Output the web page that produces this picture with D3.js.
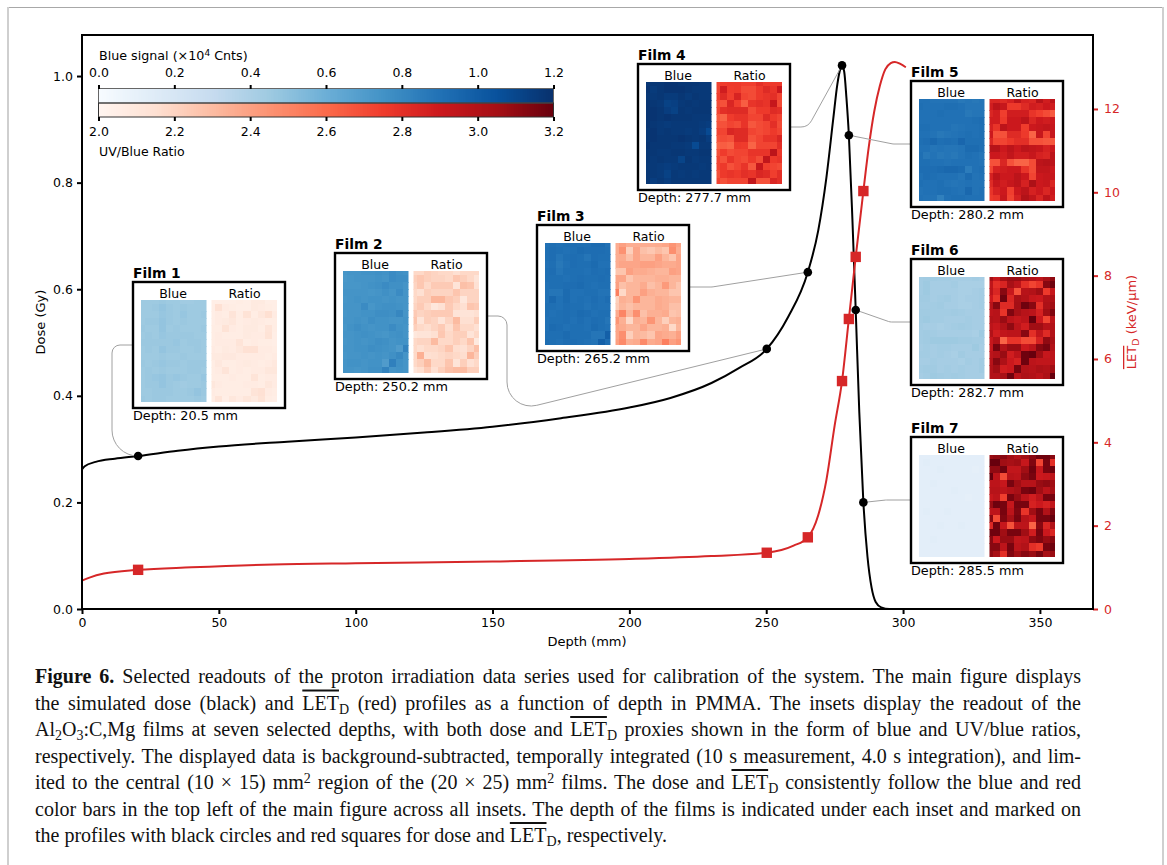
<!DOCTYPE html>
<html><head><meta charset="utf-8">
<script src="https://cdn.jsdelivr.net/npm/d3@7"></script>
<style>
html,body{margin:0;padding:0;background:#fff}
svg{display:block}
text{font-family:"DejaVu Sans",sans-serif;fill:#000}
.cap{font-family:"Liberation Serif",serif;font-size:20px;fill:#111}
</style></head><body><svg id="c" width="1167" height="865"></svg>
<script>
// ---------- data ----------
const doseDepth=[0,1,5,12,20.5,35,50,75,100,125,150,175,200,215,230,240,250.2,258,265.2,269,272,274.5,276,277,277.7,278.5,279.3,280.2,281.5,282.7,284,285.5,287,288.5,290,292,295,300];
const doseVals=[0.262,0.268,0.276,0.282,0.287,0.297,0.305,0.314,0.322,0.331,0.342,0.358,0.378,0.396,0.424,0.452,0.488,0.548,0.632,0.71,0.81,0.92,0.985,1.012,1.02,1.008,0.96,0.889,0.73,0.561,0.37,0.2,0.098,0.04,0.013,0.003,0,0];
const letDepth=[0,3,8,20.5,40,70,100,150,200,230,250.2,260,265.2,269,272,275,277.7,280.2,282.7,285.5,287.5,289.5,291.5,293.5,295.5,297,299,301];
const letVals=[0.68,0.76,0.85,0.94,1.0,1.07,1.1,1.14,1.2,1.27,1.35,1.52,1.72,2.25,3.1,4.4,5.47,6.96,8.45,10.03,11.1,11.95,12.55,12.95,13.1,13.13,13.08,13.0];
const filmNames=["Film 1","Film 2","Film 3","Film 4","Film 5","Film 6","Film 7"];
const filmDepths=[20.5,250.2,265.2,277.7,280.2,282.7,285.5];
const filmDose=[0.287,0.488,0.632,1.02,0.889,0.561,0.2];
const filmLet=[0.94,1.35,1.72,5.47,6.96,8.45,10.03];
const xTicks=[0,50,100,150,200,250,300,350];
const doseTicks=[0,0.2,0.4,0.6,0.8,1.0];
const letTicks=[0,2,4,6,8,10,12];
const blueTicks=[0,0.2,0.4,0.6,0.8,1.0,1.2];
const ratioTicks=[2,2.2,2.4,2.6,2.8,3.0,3.2];
const bluesStops=["#f7fbff","#deebf7","#c6dbef","#9ecae1","#6baed6","#4292c6","#2171b5","#08519c","#08306b"];
const redsStops=["#fff5f0","#fee0d2","#fcbba1","#fc9272","#fb6a4a","#ef3b2c","#cb181d","#a50f15","#67000d"];
// blue signal per film cell (x100, 10^4 counts)
const blue1=[[45,45,45,46,45,45,44,44,45,45],[45,45,46,48,46,45,46,45,45,45],[45,45,45,47,46,45,47,45,45,46],[45,46,46,48,46,45,46,45,45,45],[46,45,45,48,45,46,45,45,45,46],[45,46,45,47,46,46,46,46,45,45],[46,46,46,46,46,47,45,46,46,45],[45,46,45,48,46,46,45,45,46,45],[45,45,45,46,45,45,46,45,45,45],[46,45,46,47,46,46,45,46,46,46],[45,46,45,46,45,45,45,46,46,45],[45,46,47,48,46,47,46,45,45,47],[45,46,46,48,46,45,44,45,45,46],[45,45,46,46,46,45,45,46,48,46],[46,45,46,46,45,45,45,45,46,45]];
const blue2=[[73,74,74,75,75,76,75,78,76,75],[72,73,74,74,74,75,74,78,77,77],[73,73,73,74,75,76,78,76,76,74],[74,74,74,74,73,74,76,74,78,74],[73,74,75,74,75,75,74,75,74,74],[74,74,74,78,73,75,76,76,75,74],[73,74,74,75,75,77,77,76,80,74],[74,74,75,74,77,75,75,74,74,75],[73,75,77,75,74,75,75,78,75,74],[74,74,75,76,75,74,73,75,76,74],[73,74,75,74,75,77,76,74,75,75],[74,74,75,75,77,76,75,74,70,82],[73,74,74,75,74,75,74,76,79,74],[74,75,75,74,75,75,70,83,76,74],[74,74,73,74,76,76,82,74,75,74]];
const blue3=[[90,91,90,91,92,91,91,93,93,90],[91,92,91,90,91,93,92,92,92,91],[91,92,88,91,92,91,88,92,91,91],[90,91,87,90,92,91,91,93,90,90],[91,92,88,91,91,91,90,92,91,92],[91,91,91,90,91,92,91,91,92,91],[90,91,91,92,92,93,91,90,91,91],[90,88,88,93,90,90,91,91,89,89],[90,94,90,93,90,91,90,92,90,92],[91,91,90,92,91,91,89,91,90,90],[91,90,91,92,91,93,92,90,91,91],[90,91,91,92,90,92,90,92,91,88],[90,93,92,90,91,91,90,93,91,90],[91,91,91,93,91,91,91,88,88,98],[92,91,90,92,92,91,90,89,98,92]];
const blue4=[[117,117,117,118,118,117,117,117,116,116],[118,115,117,118,118,118,117,116,116,116],[117,116,117,115,115,117,115,117,116,116],[118,117,116,112,113,116,117,116,117,117],[118,118,117,114,112,117,116,117,117,117],[118,118,117,118,117,117,117,116,116,116],[118,117,116,115,116,116,116,116,115,114],[117,118,116,117,116,116,115,116,114,108],[117,118,117,117,117,118,117,116,117,114],[118,117,117,117,116,116,115,108,116,116],[117,117,116,116,117,117,116,116,117,117],[117,116,117,116,116,111,117,115,116,116],[116,116,115,114,115,116,116,116,115,116],[117,116,115,112,116,115,116,115,116,116],[117,114,116,114,116,116,116,116,116,116]];
const blue5=[[90,90,89,89,89,89,87,88,87,88],[91,90,90,90,91,91,90,88,88,88],[90,90,90,91,90,90,90,87,88,88],[90,90,90,90,90,90,90,90,91,92],[91,91,90,90,90,88,89,90,90,91],[90,90,89,87,88,89,90,91,90,91],[91,92,94,91,92,91,95,91,91,91],[90,90,88,89,88,88,89,93,93,91],[91,87,89,87,88,87,89,91,90,88],[91,91,90,90,89,90,90,90,90,89],[92,92,92,93,94,94,93,85,90,91],[90,92,91,90,90,90,88,93,89,90],[91,90,90,91,89,88,89,90,89,89],[89,90,90,91,91,90,89,94,89,90],[90,89,89,83,90,91,91,90,90,90]];
const blue6=[[43,44,44,43,43,42,42,42,43,42],[43,45,42,42,42,43,41,41,41,41],[43,45,42,42,42,42,41,41,42,43],[44,44,42,43,44,42,41,42,42,43],[43,43,43,44,42,42,41,41,42,43],[44,44,43,43,43,44,43,42,42,42],[44,45,43,43,42,42,42,43,42,42],[43,42,42,41,42,43,44,43,42,42],[43,44,43,42,42,42,42,42,41,45],[43,44,45,45,45,45,44,44,43,43],[42,43,42,43,43,42,42,42,45,42],[43,43,42,43,42,41,44,42,42,42],[42,42,43,42,42,42,41,43,42,44],[43,44,44,42,43,42,43,42,42,44],[42,43,45,44,43,44,43,42,42,42]];
const blue7=[[12,12,12,12,11,12,12,12,12,12],[12,13,12,12,12,12,12,12,12,12],[12,12,12,13,12,12,12,12,11,12],[12,12,12,12,12,12,12,12,12,12],[12,12,13,12,12,12,12,12,12,12],[12,12,12,12,12,13,12,12,12,12],[12,12,12,12,12,12,12,11,12,12],[12,12,12,12,12,12,12,12,12,12],[12,13,12,12,13,12,12,12,12,12],[12,12,12,12,12,12,12,12,12,12],[12,12,12,13,12,12,13,12,12,12],[12,12,12,12,12,12,12,12,12,12],[12,12,13,12,12,12,12,12,12,12],[12,12,12,12,12,12,12,12,12,12],[12,12,12,12,12,12,12,12,12,12]];
const ratio1=[[205,205,205,205,206,205,208,208,205,205],[205,214,207,206,205,205,208,207,206,205],[205,207,206,212,206,213,206,210,215,207],[205,207,208,210,206,207,208,207,206,206],[206,206,213,207,206,208,208,206,212,206],[206,207,206,206,206,208,207,207,213,205],[206,207,207,207,212,206,207,206,206,205],[207,206,208,207,210,214,214,207,207,206],[208,208,209,209,207,207,207,207,206,207],[206,209,206,206,207,208,207,206,207,209],[206,207,212,206,207,206,207,207,210,210],[206,206,206,207,206,206,212,206,207,207],[210,207,206,206,206,207,207,206,210,207],[207,206,206,206,206,206,212,214,207,206],[206,212,205,210,207,211,208,213,206,205]];
const ratio2=[[218,218,222,220,218,218,215,218,218,218],[222,225,222,220,220,218,225,222,218,212],[220,225,218,224,224,224,212,228,226,214],[218,215,222,220,220,220,226,220,220,220],[218,222,222,232,232,225,222,210,220,220],[220,224,218,210,214,224,218,215,226,224],[224,220,222,224,224,224,212,212,212,215],[226,212,222,220,212,220,230,215,215,222],[222,218,216,220,224,216,226,218,218,214],[210,212,212,215,225,218,222,222,212,218],[218,220,220,230,218,218,222,218,226,208],[218,215,218,218,220,226,216,214,220,228],[218,234,215,216,218,220,218,216,232,222],[218,222,230,218,218,226,212,222,214,218],[212,216,224,215,222,228,230,230,222,222]];
const ratio3=[[235,240,235,235,235,235,236,238,244,238],[235,245,222,238,228,225,230,226,246,235],[235,236,228,238,232,232,240,232,226,238],[235,238,238,238,240,240,238,236,236,238],[226,226,240,236,236,234,232,232,240,238],[238,238,226,232,232,232,234,234,232,232],[240,228,232,232,236,228,232,242,232,226],[252,218,232,232,240,234,232,232,226,226],[222,234,232,244,232,232,236,234,232,232],[224,232,228,232,232,232,236,234,228,228],[236,250,232,246,228,234,234,236,226,228],[244,234,218,234,232,244,232,222,232,234],[238,236,232,232,238,232,232,234,218,232],[238,246,222,232,230,226,238,236,234,240],[240,248,234,236,248,236,238,252,240,244]];
const ratio4=[[272,275,276,276,274,274,280,276,276,276],[272,288,275,276,270,270,276,282,278,290],[274,282,274,285,272,270,276,278,280,272],[270,268,284,274,264,278,280,278,292,270],[272,280,282,282,282,270,276,276,282,280],[265,262,275,278,278,272,272,282,276,272],[268,268,272,270,278,266,270,272,280,270],[272,272,284,282,282,272,270,272,276,272],[268,270,268,282,282,268,272,278,278,284],[262,264,262,276,275,262,272,272,272,280],[268,275,270,272,272,278,278,278,296,276],[272,268,278,272,270,276,270,294,276,278],[272,276,268,272,278,266,292,274,272,270],[268,276,278,276,280,278,284,282,274,280],[272,268,272,272,272,294,268,268,284,280]];
const ratio5=[[284,284,282,286,296,286,284,298,288,296],[288,296,292,276,276,282,288,286,290,288],[284,288,274,288,288,288,278,274,270,265],[288,288,276,290,290,296,284,290,288,290],[286,278,296,290,290,275,290,292,294,292],[290,268,268,282,282,276,262,292,272,292],[284,272,272,276,280,280,268,268,266,266],[298,298,290,296,290,296,294,292,286,290],[290,290,288,294,288,288,292,286,284,296],[268,268,284,268,262,262,270,296,298,296],[272,286,288,290,290,278,270,294,294,290],[286,296,290,290,296,290,272,290,292,292],[282,292,288,292,296,286,302,290,292,284],[278,286,290,274,290,296,286,290,284,290],[276,278,292,272,286,300,294,284,296,288]];
const ratio6=[[305,292,305,308,308,304,300,296,304,310],[295,280,285,304,296,280,272,278,312,318],[296,284,312,292,268,298,300,306,276,292],[290,278,318,284,304,300,292,290,300,302],[298,312,282,282,305,318,312,280,302,306],[296,298,278,314,304,298,296,286,306,314],[300,298,308,296,292,296,320,290,272,296],[296,292,300,310,296,288,306,306,298,300],[300,288,294,296,296,312,280,294,282,300],[292,300,262,278,278,270,270,286,310,304],[292,316,300,308,308,290,296,312,316,300],[296,300,308,288,296,318,320,306,292,296],[298,312,302,290,286,318,296,294,294,296],[300,306,288,290,316,300,298,302,300,306],[300,300,304,318,296,302,300,296,302,320]];
const ratio7=[[308,310,312,306,300,306,312,318,318,312],[320,320,306,304,306,292,314,272,316,280],[310,310,318,294,294,306,318,292,316,318],[320,296,270,298,296,310,316,290,292,296],[296,296,292,316,306,298,298,308,310,306],[298,298,296,300,304,316,318,306,296,304],[292,296,274,316,308,296,288,296,316,316],[308,318,316,292,316,316,286,290,286,294],[296,296,316,296,314,278,306,316,300,314],[312,270,314,304,316,298,292,316,316,320],[284,318,292,268,296,296,262,312,284,300],[318,318,306,316,316,306,288,316,290,284],[312,290,308,308,294,296,310,314,308,312],[312,312,296,316,296,300,280,276,316,318],[310,304,280,314,306,312,308,316,304,308]];
const blueGrids=[blue1,blue2,blue3,blue4,blue5,blue6,blue7];
const ratioGrids=[ratio1,ratio2,ratio3,ratio4,ratio5,ratio6,ratio7];
const captionLines=[
[["b","Figure 6."],["t"," Selected readouts of the proton irradiation data series used for calibration of the system. The main figure displays"]],
[["t","the simulated dose (black) and "],["o","LET"],["s","D"],["t"," (red) profiles as a function of depth in PMMA. The insets display the readout of the"]],
[["t","Al"],["s","2"],["t","O"],["s","3"],["t",":C,Mg films at seven selected depths, with both dose and "],["o","LET"],["s","D"],["t"," proxies shown in the form of blue and UV/blue ratios,"]],
[["t","respectively. The displayed data is background-subtracted, temporally integrated (10 s measurement, 4.0 s integration), and lim-"]],
[["t","ited to the central (10 × 15) mm"],["u","2"],["t"," region of the (20 × 25) mm"],["u","2"],["t"," films. The dose and "],["o","LET"],["s","D"],["t"," consistently follow the blue and red"]],
[["t","color bars in the top left of the main figure across all insets. The depth of the films is indicated under each inset and marked on"]],
[["t","the profiles with black circles and red squares for dose and "],["o","LET"],["s","D"],["t",", respectively."]]
];
// ---------- layout ----------
const RED="#d62728", GRAY="#a0a0a0";
const filmBoxes=[[133,282],[335,253],[537,225],[638,64],[911,81],[911,259],[911,437]];
const BW=152,BH=126;
const connectors=[
 {a:[133,345],c:[[112,345,8],[112,456,26]]},
 {a:[487,316],c:[[507,316,9],[507,412.6,24]]},
 {a:[689,287],c:[[712,287,14]]},
 {a:[790,127],c:[[808,127,12]]},
 {a:[911,144],c:[[893,144,10]]},
 {a:[911,322],c:[[890,322,10]]},
 {a:[911,500],c:[[886,500,6]]}];
const svg=d3.select("#c");
// page frame
svg.append("rect").attr("width",1167).attr("height",865).attr("fill","#fff");
svg.append("line").attr("x1",7).attr("x2",1164).attr("y1",7.5).attr("y2",7.5).attr("stroke","#a8a8a8");
svg.append("line").attr("x1",8).attr("x2",8).attr("y1",7).attr("y2",865).attr("stroke","#cfcfcf").attr("stroke-width",2);
svg.append("line").attr("x1",1163).attr("x2",1163).attr("y1",7).attr("y2",865).attr("stroke","#cfcfcf").attr("stroke-width",2);
// scales
const x=d3.scaleLinear([0,369.4],[82,1093]);
const yD=d3.scaleLinear([0,1.077],[609,35]);
const yL=d3.scaleLinear([0,13.775],[609,35]);
const blueC=d3.scaleLinear(d3.range(9).map(i=>i*0.15),bluesStops).interpolate(d3.interpolateRgb);
const redC=d3.scaleLinear(d3.range(9).map(i=>2+i*0.15),redsStops).interpolate(d3.interpolateRgb);
// curves
const gCurves=svg.append("g").attr("fill","none").attr("stroke-width",2);
gCurves.append("path").attr("stroke","#000")
 .attr("d",d3.line().x(i=>x(doseDepth[i])).y(i=>yD(doseVals[i])).curve(d3.curveMonotoneX)(d3.range(doseDepth.length)));
gCurves.append("path").attr("stroke",RED)
 .attr("d",d3.line().x(i=>x(letDepth[i])).y(i=>yL(letVals[i])).curve(d3.curveMonotoneX)(d3.range(letDepth.length)));
// connectors
svg.append("g").selectAll("path").data(connectors).join("path")
 .attr("fill","none").attr("stroke",GRAY).attr("stroke-width",1)
 .attr("d",(k,i)=>{const p=d3.path();p.moveTo(k.a[0],k.a[1]);
   const ex=x(filmDepths[i]),ey=yD(filmDose[i]);
   k.c.forEach((c,j)=>{const n=k.c[j+1];p.arcTo(c[0],c[1],n?n[0]:ex,n?n[1]:ey,c[2]);});
   p.lineTo(ex,ey);return p.toString();});
// markers
svg.append("g").selectAll("circle").data(filmDepths).join("circle")
 .attr("cx",d=>x(d)).attr("cy",(d,i)=>yD(filmDose[i])).attr("r",4.3).attr("fill","#000");
svg.append("g").selectAll("rect").data(filmDepths).join("rect")
 .attr("x",d=>x(d)-5.2).attr("y",(d,i)=>yL(filmLet[i])-5.2).attr("width",10.4).attr("height",10.4).attr("fill",RED);
// axes
function style(g,col,size){g.selectAll(".domain").remove();g.selectAll("line").attr("stroke",col).attr("stroke-width",2);
 g.selectAll("text").attr("font-size",size||12.5).style("fill",col).attr("font-family","DejaVu Sans");}
svg.append("g").attr("transform","translate(0,609)").call(d3.axisBottom(x).tickValues(xTicks).tickSize(5).tickPadding(4).tickFormat(d3.format("d"))).call(style,"#000");
svg.append("g").attr("transform","translate(82,0)").call(d3.axisLeft(yD).tickValues(doseTicks).tickSize(5).tickPadding(4).tickFormat(d3.format(".1f"))).call(style,"#000");
svg.append("g").attr("transform","translate(1093,0)").call(d3.axisRight(yL).tickValues(letTicks).tickSize(5).tickPadding(6).tickFormat(d3.format("d"))).call(style,RED);
svg.append("rect").attr("x",82).attr("y",35).attr("width",1011).attr("height",574).attr("fill","none").attr("stroke","#000").attr("stroke-width",2);
svg.append("text").attr("x",587).attr("y",645.5).attr("text-anchor","middle").attr("font-size",13).text("Depth (mm)");
svg.append("text").attr("transform","translate(45,322) rotate(-90)").attr("text-anchor","middle").attr("font-size",13).text("Dose (Gy)");
const yl=svg.append("text").attr("transform","translate(1136,322) rotate(-90)").attr("text-anchor","middle").attr("font-size",13).style("fill",RED);
yl.append("tspan").style("text-decoration","overline").style("fill",RED).text("LET");
yl.append("tspan").attr("dy",3).attr("font-size",9.5).style("fill",RED).text("D");
yl.append("tspan").attr("dy",-3).style("fill",RED).text(" (keV/µm)");
// colour bars
const cbB=d3.scaleLinear([0,1.2],[98.5,553.5]), cbR=d3.scaleLinear([2,3.2],[98.5,553.5]);
const steps=d3.range(0,256).map(i=>i/256);
const gBar=svg.append("g").attr("shape-rendering","crispEdges");
gBar.selectAll(".b").data(steps).join("rect").attr("class","b").attr("x",d=>cbB(d*1.2)).attr("y",89).attr("width",2.4).attr("height",14).attr("fill",d=>blueC(d*1.2));
gBar.selectAll(".r").data(steps).join("rect").attr("class","r").attr("x",d=>cbR(2+d*1.2)).attr("y",103).attr("width",2.4).attr("height",14).attr("fill",d=>redC(2+d*1.2));
const gOut=svg.append("g");
gOut.append("rect").attr("x",98.5).attr("y",88.5).attr("width",455).attr("height",14.5).attr("fill","none").attr("stroke","#666").attr("stroke-width",1);
gOut.append("rect").attr("x",98.5).attr("y",103).attr("width",455).attr("height",14).attr("fill","none").attr("stroke","#333").attr("stroke-width",1);
svg.append("g").attr("transform","translate(0,89)").call(d3.axisTop(cbB).tickValues(blueTicks).tickSize(4).tickPadding(8).tickFormat(d3.format(".1f"))).call(style,"#000");
svg.append("g").attr("transform","translate(0,117)").call(d3.axisBottom(cbR).tickValues(ratioTicks).tickSize(4).tickPadding(6).tickFormat(d3.format(".1f"))).call(style,"#000");
const bt=svg.append("text").attr("x",99).attr("y",60).attr("font-size",12.7);
bt.append("tspan").text("Blue signal (×10");
bt.append("tspan").attr("dy",-4).attr("font-size",9).text("4");
bt.append("tspan").attr("dy",4).text(" Cnts)");
svg.append("text").attr("x",99).attr("y",156).attr("font-size",12.5).text("UV/Blue Ratio");
// film insets
const cols=10,rows=15,cellW=7.1,cellH=7.05;
filmNames.forEach((name,f)=>{
 const [bx,by]=filmBoxes[f];
 const g=svg.append("g").attr("transform",`translate(${bx},${by})`);
 g.append("text").attr("x",0).attr("y",-4).attr("font-size",13.8).attr("font-weight","bold").text(name);
 g.append("rect").attr("x",0).attr("y",0).attr("width",BW).attr("height",BH).attr("fill","#fff").attr("stroke","#000").attr("stroke-width",2.4);
 g.append("text").attr("x",BW/2-36).attr("y",15.5).attr("text-anchor","middle").attr("font-size",12.5).text("Blue");
 g.append("text").attr("x",BW/2+35.5).attr("y",15.5).attr("text-anchor","middle").attr("font-size",12.5).text("Ratio");
 g.append("text").attr("x",0).attr("y",BH+12).attr("font-size",12.8).text("Depth: "+filmDepths[f].toFixed(1)+" mm");
 [[blueGrids[f],8,blueC,100,"b"],[ratioGrids[f],78.5,redC,100,"r"]].forEach(([grid,left,col,div,tag])=>{
  const id=`clip${tag}${f}`;
  g.append("clipPath").attr("id",id).append("rect").attr("x",left).attr("y",18).attr("width",65.5).attr("height",102);
  const cx=d3.scaleLinear([0,cols],[left-cellW*0.5,left-cellW*0.5+cols*cellW]);
  const cy=d3.scaleLinear([0,rows],[18-cellH*0.45,18-cellH*0.45+rows*cellH]);
  g.append("g").attr("clip-path",`url(#${id})`).attr("shape-rendering","crispEdges").selectAll("g").data(grid).join("g")
   .each(function(row,r){d3.select(this).selectAll("rect").data(row).join("rect")
     .attr("x",(v,c)=>cx(c)).attr("y",cy(r)).attr("width",cellW+0.6).attr("height",cellH+0.6)
     .attr("fill",v=>col(v/div));});
 });
});
// caption
const capY=d3.scaleLinear([0,6],[683,842]);
captionLines.forEach((segs,i)=>{
 const t=svg.append("text").attr("class","cap").attr("x",35).attr("y",capY(i));
 let shift=0;
 segs.forEach(([k,s])=>{
  const ts=t.append("tspan").text(s).attr("xml:space","preserve").style("white-space","pre");
  let d=0;
  if(k==="s")d=4; if(k==="u")d=-6;
  if(k==="b")ts.attr("font-weight","bold");
  if(k==="o")ts.style("text-decoration","overline");
  if(k==="s"||k==="u")ts.attr("font-size",14);
  if(d-shift!==0)ts.attr("dy",d-shift);
  shift=d;
 });
 if(i<6){
  const len=t.node().getComputedTextLength();
  const sp=(segs.map(s=>s[1]).join("").match(/ /g)||[]).length;
  t.attr("word-spacing",(1046-len)/sp);
 }
});
</script></body></html>
